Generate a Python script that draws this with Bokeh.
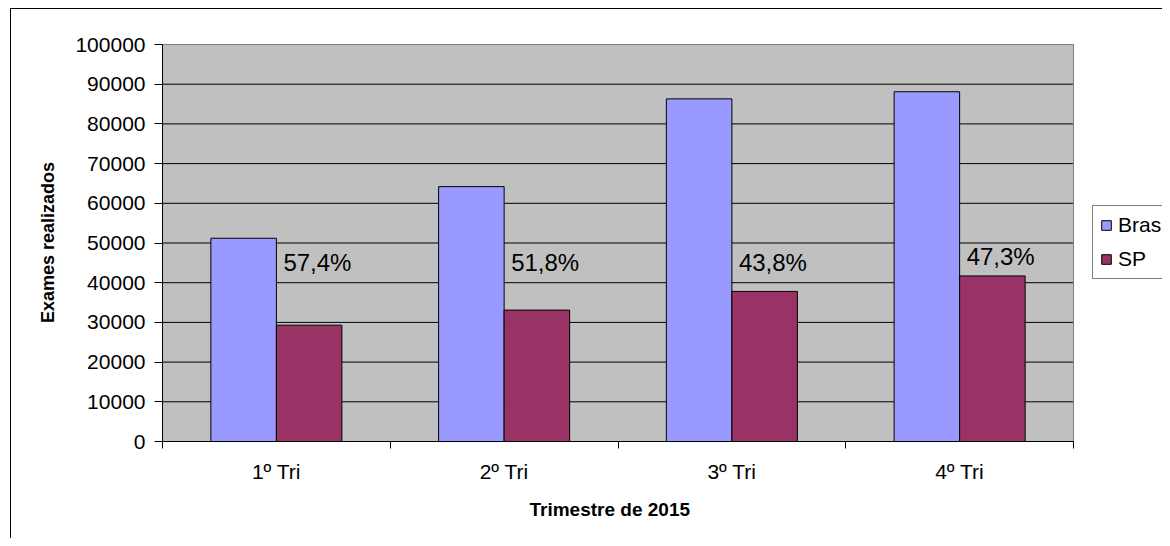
from bokeh.plotting import figure
from bokeh.models import (Range1d, FixedTicker, BasicTickFormatter, ColumnDataSource,
                          Legend, LegendItem, Title)
from bokeh.transform import dodge
from bokeh.core.properties import value
from bokeh.embed import file_html
from bokeh.resources import INLINE

# ---- data ----
categories = ["1º Tri", "2º Tri", "3º Tri", "4º Tri"]
brasil = [51200, 64200, 86300, 88100]
sp = [29300, 33100, 37800, 41700]
pct_labels = ["57,4%", "51,8%", "43,8%", "47,3%"]
pct_label_y = [45000, 45000, 45000, 46500]
y_ticks = [0, 10000, 20000, 30000, 40000, 50000, 60000, 70000, 80000, 90000, 100000]
y_max = 100000

FONT = "Liberation Sans"
BAR_W = 0.2876
N = len(categories)

# the frame runs to the right edge of the canvas so the legend (which sits to the
# right of the grey plot area) is not clipped; the grey area covers 911 of 1000 px
X_END = N * 1000 / 911
Y_END = y_max * 398 / 397

centers = [i + 0.5 for i in range(N)]
bounds = list(range(N + 1))

src = ColumnDataSource(dict(center=centers, brasil=brasil, sp=sp,
                            label=pct_labels, label_y=pct_label_y))
grid_src = ColumnDataSource(dict(y=y_ticks, x0=[0] * len(y_ticks), x1=[N] * len(y_ticks)))

p = figure(width=1162, height=538,
           x_range=Range1d(0, X_END), y_range=Range1d(0, Y_END),
           output_backend="svg", toolbar_location=None,
           min_border_left=162, min_border_right=0,
           min_border_top=43, min_border_bottom=97,
           background_fill_color="white", background_fill_alpha=0,
           border_fill_color="white", border_fill_alpha=0,
           outline_line_color=None)

# outer chart-area border (left/top edges) drawn behind the transparent canvas
p.styles = {
    "background-image": "linear-gradient(#000, #000), linear-gradient(#000, #000)",
    "background-size": "1px 100%, 100% 1px",
    "background-position": "10px 8px, 10px 8px",
    "background-repeat": "no-repeat",
}

p.xgrid.visible = False
p.ygrid.visible = False

# grey plot area, grid lines, plot-area border
p.quad(left=0, right=N, bottom=0, top=y_max, fill_color="#C0C0C0", line_color=None)
p.segment(x0="x0", x1="x1", y0="y", y1="y", source=grid_src, line_color="black", line_width=1)
p.quad(left=0, right=N, bottom=0, top=y_max, fill_alpha=0, line_color="#808080", line_width=1)

r1 = p.vbar(x=dodge("center", -BAR_W / 2), top="brasil", width=BAR_W, source=src,
            fill_color="#9999FF", line_color="black", line_width=1)
r2 = p.vbar(x=dodge("center", BAR_W / 2), top="sp", width=BAR_W, source=src,
            fill_color="#993366", line_color="black", line_width=1)

p.text(x="center", y="label_y", text="label", source=src, x_offset=7,
       text_font=value(FONT), text_font_size="24px", text_align="left",
       text_baseline="alphabetic", text_color="black")

# y axis
ya = p.yaxis[0]
ya.bounds = (0, y_max)
ya.ticker = FixedTicker(ticks=y_ticks)
ya.formatter = BasicTickFormatter(use_scientific=False)
ya.major_label_text_font = FONT
ya.major_label_text_font_size = "21px"
ya.major_label_text_color = "black"
ya.major_tick_out = 8
ya.major_tick_in = 0
ya.minor_tick_line_color = None
ya.axis_line_color = "black"
ya.major_tick_line_color = "black"
ya.major_label_standoff = 9
ya.axis_label = "Exames realizados"
ya.axis_label_text_font = FONT
ya.axis_label_text_font_style = "bold"
ya.axis_label_text_font_size = "18px"
ya.axis_label_text_color = "black"
ya.axis_label_standoff = 14

# x axis
xa = p.xaxis[0]
xa.bounds = (0, N)
xa.ticker = FixedTicker(ticks=centers, minor_ticks=bounds)
xa.major_label_overrides = {c: cat for c, cat in zip(centers, categories)}
xa.major_tick_out = 0
xa.major_tick_in = 0
xa.minor_tick_out = 7
xa.minor_tick_in = 0
xa.minor_tick_line_color = "black"
xa.axis_line_color = "black"
xa.major_label_text_font = FONT
xa.major_label_text_font_size = "21px"
xa.major_label_text_color = "black"
xa.major_label_standoff = 11

p.add_layout(Title(text="Trimestre de 2015", align="left", offset=367,
                   text_font=FONT, text_font_style="bold", text_font_size="19px",
                   text_color="black", standoff=22), "below")

legend = Legend(items=[LegendItem(label="Brasil", renderers=[r1]),
                       LegendItem(label="SP", renderers=[r2])],
                location=(930, 162), orientation="vertical",
                glyph_width=12, glyph_height=12, label_standoff=6,
                label_text_font=FONT, label_text_font_size="21px",
                label_text_color="black", padding=7, spacing=10, margin=0,
                border_line_color="black", border_line_width=1,
                background_fill_color="white", background_fill_alpha=1)
p.add_layout(legend)

open("out.html", "w").write(file_html(p, INLINE))
